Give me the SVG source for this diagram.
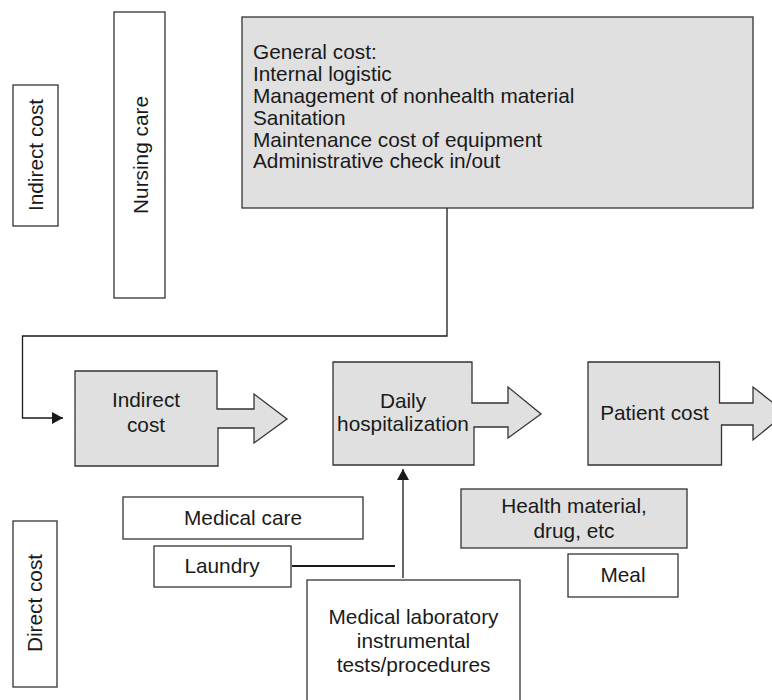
<svg xmlns="http://www.w3.org/2000/svg" width="772" height="700" viewBox="0 0 772 700">
<style>
.box{fill:#ffffff;stroke:#333333;stroke-width:1.3}
.gray{fill:#e0e0e0;stroke:#333333;stroke-width:1.3}
.t{font-family:"Liberation Sans",Arial,sans-serif;font-size:20.8px;fill:#1a1a1a}
.c{text-anchor:middle}
.ln{fill:none;stroke:#1a1a1a;stroke-width:1.3}
</style>
<defs>
<marker id="ah" markerUnits="userSpaceOnUse" markerWidth="12" markerHeight="12" viewBox="0 0 11 12" refX="11" refY="6" orient="auto">
<path d="M0,0 L11,6 L0,12 Z" fill="#1a1a1a"/>
</marker>
</defs>
<rect width="772" height="700" fill="#ffffff"/>

<g id="connectors">
<path class="ln" d="M447,208 V336 H22.5 V418 H63" marker-end="url(#ah)"/>
<path class="ln" d="M403,578 V469" marker-end="url(#ah)"/>
<path d="M292,566 H395" fill="none" stroke="#1a1a1a" stroke-width="2.2"/>
</g>

<g id="indirect-cost-label">
<rect class="box" x="13" y="85" width="45" height="141"/>
<text class="t c" transform="translate(35,155) rotate(-90)" x="0" y="7.5">Indirect cost</text>
</g>

<g id="nursing-care">
<rect class="box" x="114" y="12" width="51" height="286"/>
<text class="t c" transform="translate(140,155) rotate(-90)" x="0" y="7.5">Nursing care</text>
</g>

<g id="general-cost">
<rect class="gray" x="242" y="17" width="511" height="191"/>
<text class="t" x="253" y="59">General cost:</text>
<text class="t" x="253" y="81">Internal logistic</text>
<text class="t" x="253" y="103">Management of nonhealth material</text>
<text class="t" x="253" y="125">Sanitation</text>
<text class="t" x="253" y="146.5">Maintenance cost of equipment</text>
<text class="t" x="253" y="168">Administrative check in/out</text>
</g>

<g id="indirect-cost">
<path class="gray" d="M75,371 H217 V409 H254 V394 L287,419 L254,443 V428 H218 V466 H75 Z"/>
<text class="t c" x="146" y="407">Indirect</text>
<text class="t c" x="146" y="432">cost</text>
</g>

<g id="daily-hospitalization">
<path class="gray" d="M333,362 H472 V403 H508 V387 L541,414 L508,438 V427 H474 V465 H333 Z"/>
<text class="t c" x="403" y="408">Daily</text>
<text class="t c" x="403" y="431">hospitalization</text>
</g>

<g id="patient-cost">
<path class="gray" d="M588,362 H719.5 V403 H753 V387 L786,413 L753,440 V425 H721.5 V465 H588 Z"/>
<text class="t c" x="654.5" y="420">Patient cost</text>
</g>

<g id="medical-care">
<rect class="box" x="123" y="497" width="240" height="42"/>
<text class="t c" x="243" y="525">Medical care</text>
</g>

<g id="laundry">
<rect class="box" x="154" y="546" width="137" height="41"/>
<text class="t c" x="222" y="573">Laundry</text>
</g>

<g id="health-material">
<rect class="gray" x="461" y="489" width="226" height="59"/>
<text class="t c" x="574" y="513">Health material,</text>
<text class="t c" x="574" y="538">drug, etc</text>
</g>

<g id="meal">
<rect class="box" x="568" y="554" width="110" height="43"/>
<text class="t c" x="623" y="582">Meal</text>
</g>

<g id="medical-laboratory">
<rect class="box" x="307" y="580" width="213" height="130"/>
<text class="t c" x="413.5" y="624">Medical laboratory</text>
<text class="t c" x="413.5" y="647.5">instrumental</text>
<text class="t c" x="413.5" y="671.5">tests/procedures</text>
</g>

<g id="direct-cost-label">
<rect class="box" x="13" y="521" width="44" height="166"/>
<text class="t c" transform="translate(34,603) rotate(-90)" x="0" y="7.5">Direct cost</text>
</g>
</svg>
